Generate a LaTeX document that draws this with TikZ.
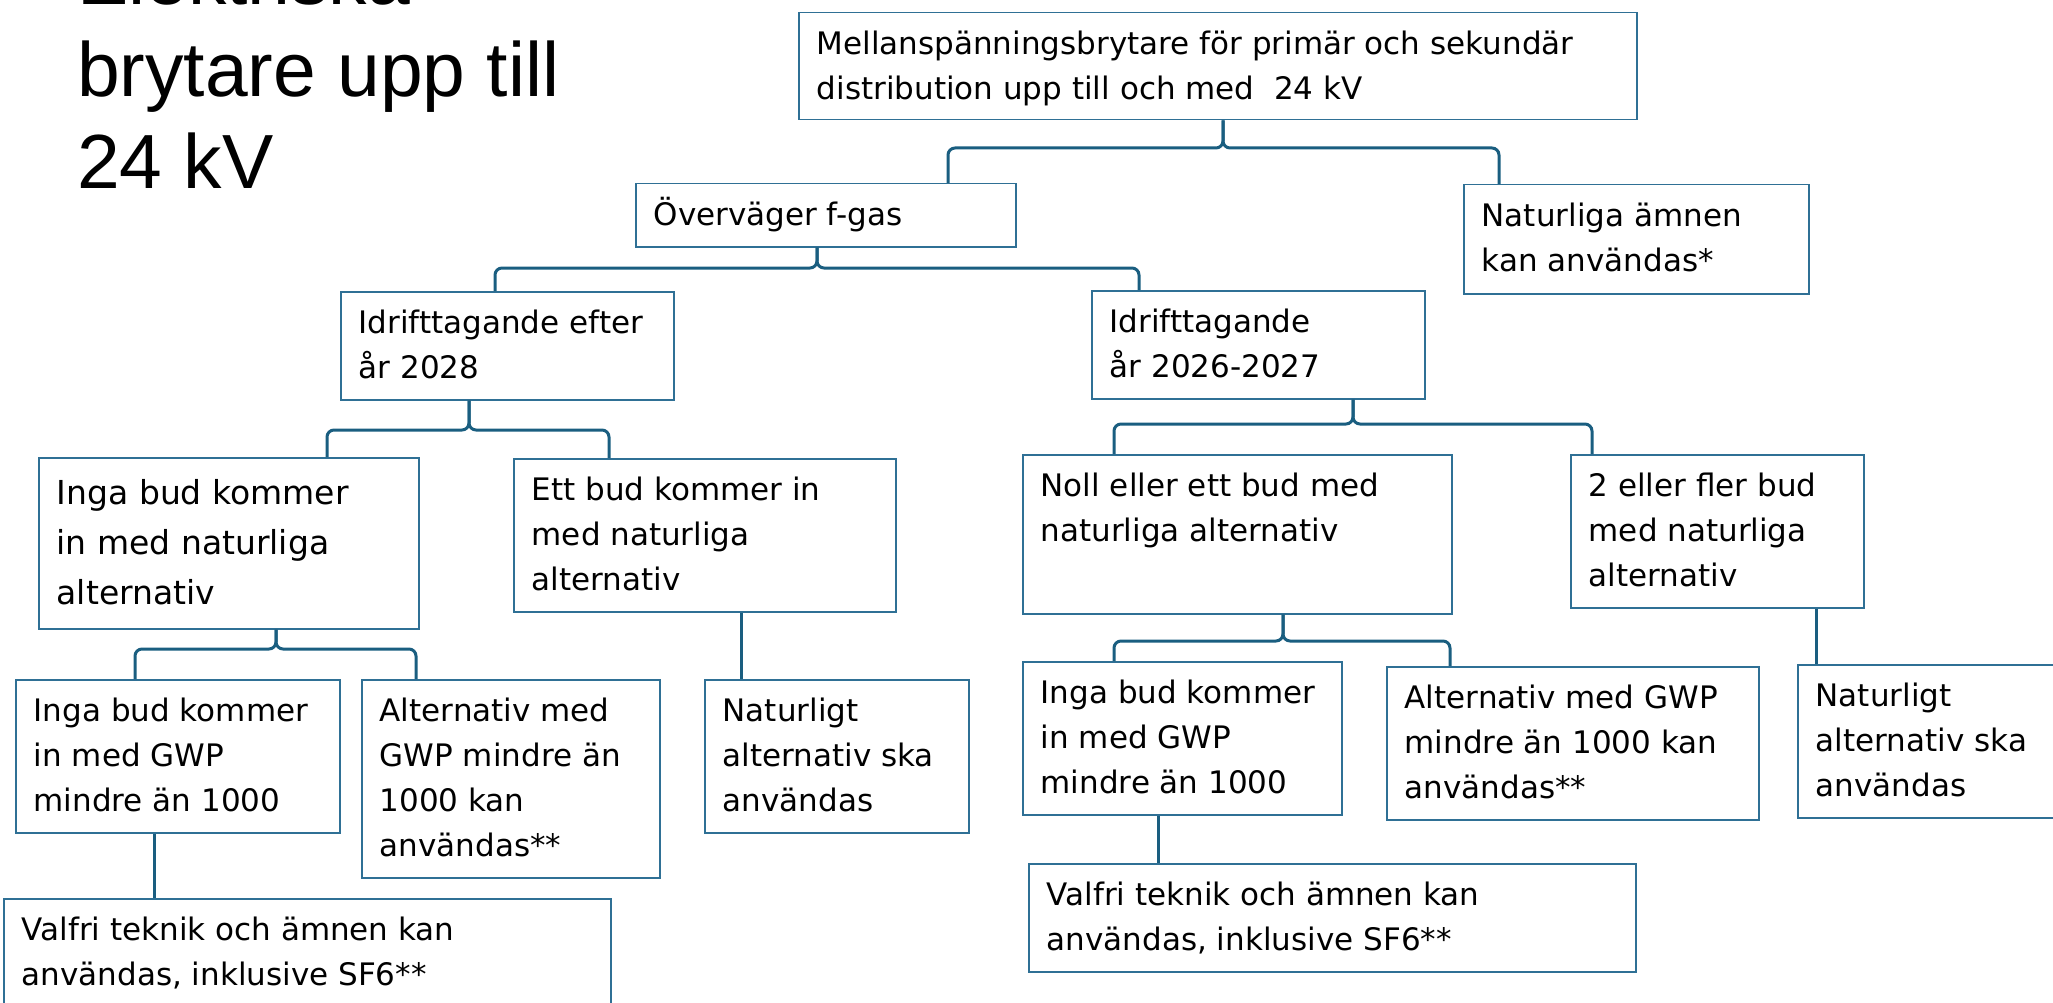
\documentclass[tikz,border=0pt]{standalone}
\usepackage{fontspec}
\setmainfont{DejaVu Sans}
\newfontfamily\titlefont{Liberation Sans}
\usepackage{tikz}

\definecolor{linkblue}{HTML}{1A5E80}
\definecolor{boxblue}{HTML}{2F7095}

\newcommand{\boxfont}{\fontsize{31pt}{45pt}\selectfont}
\newcommand{\boxfontlarge}{\fontsize{33pt}{50pt}\selectfont}
\newcommand{\cell}[3]{\parbox[t][#2pt][t]{#1pt}{\leftskip=18pt\rightskip=0pt plus 1fil
  \rule{0pt}{\dimexpr\baselineskip-3pt\relax}#3}}

\begin{document}
\begin{tikzpicture}[x=1pt, y=1pt]
          \tikzstyle{box} = [draw=boxblue, line width=1.5pt, fill=white, anchor=north west, inner sep=0pt, font=\boxfont]
          \tikzstyle{link} = [draw=linkblue, line width=3pt, rounded corners=7pt]
          \tikzstyle{heading} = [anchor=north west, inner sep=0pt, font={\titlefont\fontsize{76.8pt}{92pt}\selectfont}]

          \fill[white] (0,0) rectangle (2053,-1003);
          \useasboundingbox (0,0) rectangle (2053,-1003);
          \clip (0,0) rectangle (2053,-1003);

          \node[heading] (title) at (77,66)
            {\parbox[t]{700pt}{\rule{0pt}{70pt}Elektriska\\brytare upp till\\24 kV}};

          \node[box] (main) at (798,-12)
            {\cell{838}{107}{Mellanspänningsbrytare för primär och sekundär\\distribution upp till och med~ 24 kV}};
          \node[box] (fgas) at (635,-183)
            {\cell{380}{63}{Överväger f-gas}};
          \node[box] (natamnen) at (1463,-184)
            {\cell{345}{109}{Naturliga ämnen\\kan användas*}};
            \node[box] (efter2028) at (340,-291)
              {\cell{333}{108}{Idrifttagande efter\\år 2028}};
            \node[box] (ar2026) at (1091,-290)
              {\cell{333}{108}{Idrifttagande\\år 2026-2027}};
              \node[box, font=\boxfontlarge] (ingaNat) at (38,-457)
                {\cell{380}{171}{Inga bud kommer\\in med naturliga\\alternativ}};
              \node[box] (ettBud) at (513,-458)
                {\cell{382}{153}{Ett bud kommer in\\med naturliga\\alternativ}};
              \node[box] (noll) at (1022,-454)
                {\cell{429}{159}{Noll eller ett bud med\\naturliga alternativ}};
              \node[box] (fler) at (1570,-454)
                {\cell{293}{153}{2 eller fler bud\\med naturliga\\alternativ}};
                \node[box] (ingaGwpL) at (15,-679)
                  {\cell{324}{153}{Inga bud kommer\\in med GWP\\mindre än 1000}};
                \node[box] (altL) at (361,-679)
                  {\cell{298}{198}{Alternativ med\\GWP mindre än\\1000 kan\\användas**}};
                \node[box] (natL) at (704,-679)
                  {\cell{264}{153}{Naturligt\\alternativ ska\\användas}};
                \node[box] (valfriL) at (3,-898)
                  {\cell{607}{140}{Valfri teknik och ämnen kan\\användas, inklusive SF6**}};
                \node[box] (ingaGwpR) at (1022,-661)
                  {\cell{319}{153}{Inga bud kommer\\in med GWP\\mindre än 1000}};
                \node[box] (altR) at (1386,-666)
                  {\cell{372}{153}{Alternativ med GWP\\mindre än 1000 kan\\användas**}};
                \node[box] (natR) at (1797,-664)
                  {\cell{290}{153}{Naturligt\\alternativ ska\\användas}};
                \node[box] (valfriR) at (1028,-863)
                  {\cell{607}{108}{Valfri teknik och ämnen kan\\användas, inklusive SF6**}};

          \coordinate (j1) at (1223,-148); \coordinate (l1) at (948,-148); \coordinate (r1) at (1499,-148);
          \coordinate (j2) at (817,-268); \coordinate (l2) at (495,-268); \coordinate (r2) at (1139,-268);
          \coordinate (j3) at (469,-430); \coordinate (l3) at (327,-430); \coordinate (r3) at (609,-430);
          \coordinate (j4) at (1353,-424); \coordinate (l4) at (1114,-424); \coordinate (r4) at (1592,-424);
          \coordinate (j5) at (276,-649); \coordinate (l5) at (135,-649); \coordinate (r5) at (416,-649);
          \coordinate (j6) at (1283,-641); \coordinate (l6) at (1114,-641); \coordinate (r6) at (1450,-641);
          \coordinate (s1) at (741,0); \coordinate (s2) at (154,0);
          \coordinate (s3) at (1816,0); \coordinate (s4) at (1158,0);

          \path[link] (l1 |- fgas.north) -- (l1) -- (j1) -- (j1 |- main.south);
          \path[link] (r1 |- natamnen.north) -- (r1) -- (j1) -- (j1 |- main.south);
          \path[link] (l2 |- efter2028.north) -- (l2) -- (j2) -- (j2 |- fgas.south);
          \path[link] (r2 |- ar2026.north) -- (r2) -- (j2) -- (j2 |- fgas.south);
          \path[link] (l3 |- ingaNat.north) -- (l3) -- (j3) -- (j3 |- efter2028.south);
          \path[link] (r3 |- ettBud.north) -- (r3) -- (j3) -- (j3 |- efter2028.south);
          \path[link] (l4 |- noll.north) -- (l4) -- (j4) -- (j4 |- ar2026.south);
          \path[link] (r4 |- fler.north) -- (r4) -- (j4) -- (j4 |- ar2026.south);
          \path[link] (l5 |- ingaGwpL.north) -- (l5) -- (j5) -- (j5 |- ingaNat.south);
          \path[link] (r5 |- altL.north) -- (r5) -- (j5) -- (j5 |- ingaNat.south);
          \path[link] (l6 |- ingaGwpR.north) -- (l6) -- (j6) -- (j6 |- noll.south);
          \path[link] (r6 |- altR.north) -- (r6) -- (j6) -- (j6 |- noll.south);
          \path[link] (s1 |- ettBud.south) -- (s1 |- natL.north);
          \path[link] (s2 |- ingaGwpL.south) -- (s2 |- valfriL.north);
          \path[link] (s3 |- fler.south) -- (s3 |- natR.north);
          \path[link] (s4 |- ingaGwpR.south) -- (s4 |- valfriR.north);
        \end{tikzpicture}
\end{document}
